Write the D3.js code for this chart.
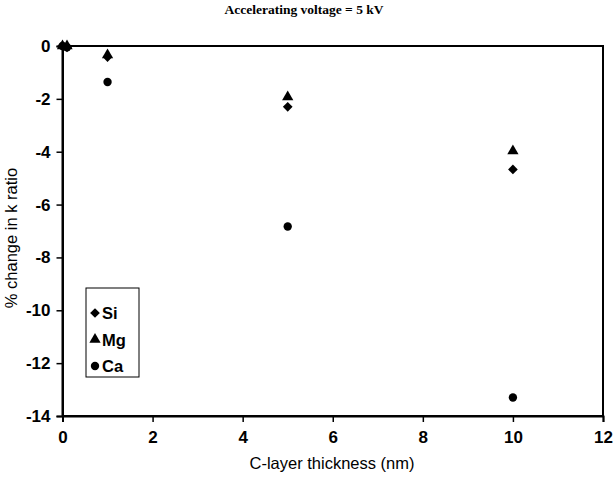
<!DOCTYPE html>
<html>
<head>
<meta charset="utf-8">
<script src="https://cdn.jsdelivr.net/npm/d3@7"></script>
<style>
  body { margin: 0; background: #fff; }
  text { font-family: "Liberation Sans", Arial, sans-serif; }
</style>
</head>
<body>
<div id="chart"></div>
<script>
// values
var thickness = [0, 0.1, 1, 5, 10];
var siValues = [0, -0.05, -0.42, -2.3, -4.67];
var mgValues = [0, 0, -0.34, -1.93, -3.97];
var caValues = [0, -0.05, -1.36, -6.83, -13.3];
var seriesNames = ["Si", "Mg", "Ca"];
var xTicks = [0, 2, 4, 6, 8, 10, 12];
var yTicks = [0, -2, -4, -6, -8, -10, -12, -14];

var W = 613, H = 480;
var margin = {top: 46, right: 10, bottom: 64, left: 62.5};

var svg = d3.select("#chart").append("svg")
   .attr("width", W).attr("height", H);

var x = d3.scaleLinear().domain([0, 12]).range([margin.left, 603]);
var y = d3.scaleLinear().domain([-14, 0]).range([416, margin.top]);

// title
svg.append("text")
   .attr("x", 304).attr("y", 14)
   .attr("text-anchor", "middle")
   .style("font-family", '"Liberation Serif", "Times New Roman", serif')
   .style("font-weight", "700")
   .style("font-size", "13.5px")
   .text("Accelerating voltage = 5 kV");

// plot box
svg.append("rect")
   .attr("x", x(0)).attr("y", y(0))
   .attr("width", x(12) - x(0)).attr("height", y(-14) - y(0))
   .attr("fill", "none").attr("stroke", "#000").attr("stroke-width", 2);

var xAxis = svg.append("g")
   .attr("transform", "translate(0," + y(-14) + ")")
   .call(d3.axisBottom(x).tickValues(xTicks).tickSize(6).tickPadding(9));
var yAxis = svg.append("g")
   .attr("transform", "translate(" + x(0) + ",0)")
   .call(d3.axisLeft(y).tickValues(yTicks).tickSize(6).tickPadding(6)
      .tickFormat(function(d){ return d === 0 ? "0" : "-" + Math.abs(d); }));

[xAxis, yAxis].forEach(function(a){
   a.select(".domain").attr("stroke-width", 2);
   a.selectAll(".tick line").attr("stroke-width", 1.5);
   a.selectAll(".tick text")
      .style("font-family", '"Liberation Sans", Arial, sans-serif')
      .style("font-size", "17px")
      .style("font-weight", "700")
      .attr("fill", "#000");
});

// axis titles
svg.append("text")
   .attr("x", 332).attr("y", 469)
   .attr("text-anchor", "middle")
   .style("font-size", "16.5px")
   .text("C-layer thickness (nm)");
svg.append("text")
   .attr("transform", "translate(17," + 238 + ") rotate(-90)")
   .attr("text-anchor", "middle")
   .style("font-size", "16.5px")
   .text("% change in k ratio");

var symbols = {
   Si: d3.symbol().type(d3.symbolDiamond2 || d3.symbolDiamond).size(60),
   Mg: d3.symbol().type(d3.symbolTriangle).size(55),
   Ca: d3.symbol().type(d3.symbolCircle).size(55)
};
var seriesValues = {Si: siValues, Mg: mgValues, Ca: caValues};

seriesNames.forEach(function(name){
   svg.append("g").selectAll("path")
      .data(thickness.map(function(t, i){ return {x: t, y: seriesValues[name][i]}; }))
      .enter().append("path")
      .attr("d", symbols[name])
      .attr("transform", function(d){ return "translate(" + x(d.x) + "," + y(d.y) + ")"; })
      .attr("fill", "#000");
});

// legend
var legend = svg.append("g");
legend.append("rect")
   .attr("x", 86).attr("y", 288).attr("width", 53).attr("height", 89)
   .attr("fill", "#fff").attr("stroke", "#000").attr("stroke-width", 1);
seriesNames.forEach(function(name, i){
   var ly = 313 + i * 26.5;
   legend.append("path")
      .attr("d", symbols[name])
      .attr("transform", "translate(95," + ly + ")")
      .attr("fill", "#000");
   legend.append("text")
      .attr("x", 102).attr("y", ly + 6)
      .style("font-size", "16.5px").style("font-weight", "700")
      .text(name);
});
</script>
</body>
</html>
